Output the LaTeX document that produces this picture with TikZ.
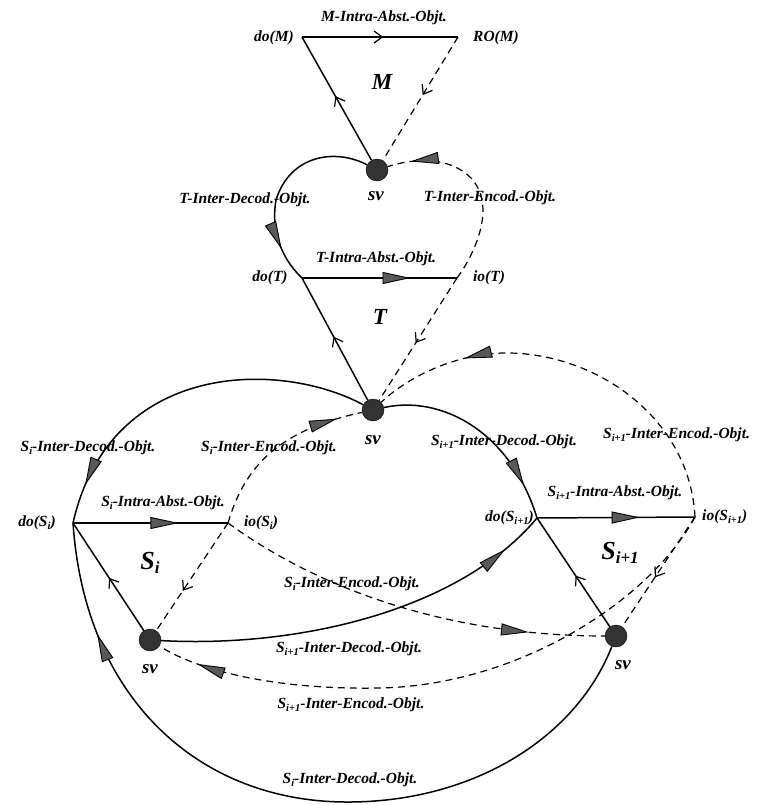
\documentclass[tikz,border=0pt]{standalone}
\usepackage{fontspec}
\setmainfont{Liberation Serif}
\usetikzlibrary{arrows.meta,decorations.markings}
\newcommand{\mysub}[2][10.5]{\raisebox{-0.35ex}{\fontsize{#1}{#1}\selectfont #2}}
\begin{document}
\begin{tikzpicture}[x=1pt,y=-1pt,
  every node/.style={inner sep=0pt},
  lbl/.style={font=\fontsize{15.5}{17}\selectfont\bfseries\itshape},
  big/.style={font=\fontsize{23}{26}\selectfont\bfseries\itshape},
  bigS/.style={font=\fontsize{26}{28}\selectfont\bfseries\itshape},
  svlbl/.style={font=\fontsize{19}{21}\selectfont\bfseries\itshape},
  svdot/.style={circle,fill=black!80,draw=black,minimum size=22pt,inner sep=0pt},
  edge/.style={line width=1.5pt},
  dedge/.style={line width=1.2pt,dash pattern=on 7pt off 5pt},
  openat/.style={postaction={decorate,decoration={markings,mark=at position #1 with {\arrow{Straight Barb[length=8pt,width=12pt,line width=1.2pt]}}}}},
  fillat/.style={postaction={decorate,decoration={markings,mark=at position #1 with {\arrow{Triangle[length=28pt,width=12pt,fill=black!65,line width=0.9pt]}}}}},
]
\useasboundingbox (0,0) rectangle (759,805);

% ---------- vertices ----------
\coordinate (doM) at (302,37);
\coordinate (roM) at (458,37);
\node[svdot] (svA) at (377,170) {};
\coordinate (doT) at (302,278);
\coordinate (ioT) at (457,278);
\node[svdot] (svB) at (373,410) {};
\coordinate (doSi) at (73,523);
\coordinate (ioSi) at (228,523);
\node[svdot] (svC) at (150,640) {};
\coordinate (doSj) at (537,518);
\coordinate (ioSj) at (695,517);
\node[svdot] (svD) at (616,636) {};

% ---------- M triangle ----------
\draw[edge,openat=0.52] (doM) -- (roM);
\draw[edge,openat=0.52] (svA) -- (doM);
\draw[dedge,openat=0.47] (roM) -- (svA);

% ---------- T triangle ----------
\draw[edge,fillat=0.7] (doT) -- (ioT);
\draw[edge,openat=0.52] (svB) -- (doT);
\draw[dedge,openat=0.53] (ioT) -- (svB);
\draw[edge,fillat=0.82] (svA) .. controls (335,148) and (290,155) .. (276,200) .. controls (270,235) and (285,262) .. (doT);
\draw[dedge,fillat=0.88] (ioT) .. controls (472,258) and (487,225) .. (482,200) .. controls (477,170) and (440,150) .. (svA);

% ---------- S_i triangle ----------
\draw[edge,fillat=0.68] (doSi) -- (ioSi);
\draw[edge,openat=0.49] (svC) -- (doSi);
\draw[dedge,openat=0.63] (ioSi) -- (svC);

% ---------- S_{i+1} triangle ----------
\draw[edge,fillat=0.65] (doSj) -- (ioSj);
\draw[edge,openat=0.47] (svD) -- (doSj);
\draw[dedge,openat=0.55] (ioSj) -- (svD);

% ---------- inter edges ----------
\draw[edge,fillat=0.89] (svB) .. controls (280,360) and (110,360) .. (doSi);
\draw[dedge,fillat=0.86] (ioSi) .. controls (245,465) and (280,430) .. (svB);
\draw[edge,fillat=0.83] (svB) .. controls (440,395) and (510,430) .. (doSj);
\draw[dedge,fillat=0.77] (ioSj) .. controls (690,420) and (600,355) .. (510,353) .. controls (460,352) and (410,375) .. (svB);
\draw[dedge,fillat=0.81] (ioSi) .. controls (320,590) and (450,636) .. (svD);
\draw[edge,fillat=0.89] (svC) .. controls (300,648) and (460,610) .. (doSj);
\draw[dedge,fillat=0.93] (ioSj) .. controls (650,600) and (520,685) .. (380,688) .. controls (280,690) and (200,672) .. (svC);
\draw[edge,fillat=0.85] (svD) .. controls (575,740) and (470,803) .. (345,802) .. controls (200,801) and (85,700) .. (doSi);

% ---------- labels ----------
\node[lbl] (lMintra) at (384,18) {M-Intra-Abst.-Objt.};
\node[lbl] (ldoM) at (274,38) {do(M)};
\node[lbl] (lroM) at (496,38) {RO(M)};
\node[big] (lM) at (382,82) {M};
\node[svlbl] (lsvA) at (376,196) {sv};
\node[lbl] (lTdec) at (245,200) {T-Inter-Decod.-Objt.};
\node[lbl] (lTenc) at (490,198) {T-Inter-Encod.-Objt.};
\node[lbl] (lTintra) at (376,259) {T-Intra-Abst.-Objt.};
\node[lbl] (ldoT) at (270,278) {do(T)};
\node[lbl] (lioT) at (489,278) {io(T)};
\node[big] (lT) at (380,317) {T};
\node[lbl] (lSidec) at (88,448) {S\mysub{i}-Inter-Decod.-Objt.};
\node[lbl] (lSienc) at (269,448) {S\mysub{i}-Inter-Encod.-Objt.};
\node[svlbl] (lsvB) at (373,440) {sv};
\node[lbl] (lSjdec) at (504,442) {S\mysub{i+1}-Inter-Decod.-Objt.};
\node[lbl,anchor=west] (lSjenc) at (603,435) {S\mysub{i+1}-Inter-Encod.-Objt.};
\node[lbl] (lSiintra) at (163,503) {S\mysub{i}-Intra-Abst.-Objt.};
\node[lbl] (lSjintra) at (615,493) {S\mysub{i+1}-Intra-Abst.-Objt.};
\node[lbl] (ldoSi) at (37,523) {do(S\mysub{i})};
\node[lbl] (lioSi) at (261,523) {io(S\mysub{i})};
\node[lbl,anchor=east] (ldoSj) at (534,518) {do(S\mysub{i+1})};
\node[lbl,anchor=west] (lioSj) at (702,517) {io(S\mysub{i+1})};
\node[bigS] (lSi) at (150,563) {S\mysub[17]{i}};
\node[bigS] (lSj) at (620,553) {S\mysub[17]{i+1}};
\node[lbl] (lSienc2) at (352,584) {S\mysub{i}-Inter-Encod.-Objt.};
\node[lbl] (lSjdec2) at (349,649) {S\mysub{i+1}-Inter-Decod.-Objt.};
\node[svlbl] (lsvC) at (150,669) {sv};
\node[svlbl] (lsvD) at (623,665) {sv};
\node[lbl] (lSjenc2) at (351,705) {S\mysub{i+1}-Inter-Encod.-Objt.};
\node[lbl] (lSidec2) at (350,780) {S\mysub{i}-Inter-Decod.-Objt.};
\end{tikzpicture}
\end{document}
